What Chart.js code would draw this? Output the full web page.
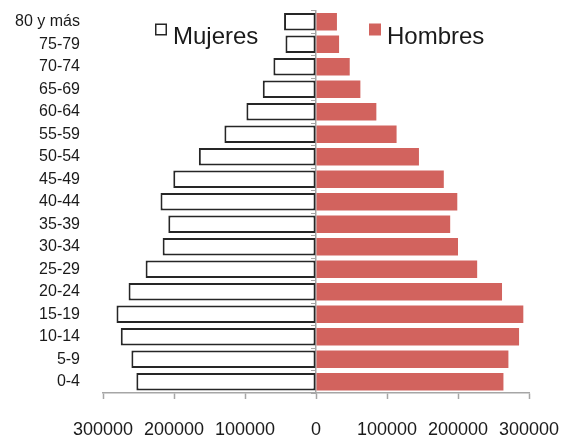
<!DOCTYPE html>
<html>
<head>
<meta charset="utf-8">
<script src="https://cdn.jsdelivr.net/npm/chart.js@4.4.1/dist/chart.umd.min.js"></script>
<style>
  html, body { margin: 0; padding: 0; background: #fff; }
  #wrap { width: 568px; height: 438px; }
</style>
</head>
<body>
<div id="wrap"><canvas id="pyramid"></canvas></div>
<script>
// age groups, bottom to top
const ageGroups = ['0-4', '5-9', '10-14', '15-19', '20-24', '25-29', '30-34', '35-39',
  '40-44', '45-49', '50-54', '55-59', '60-64', '65-69', '70-74', '75-79', '80 y más'];

const mujeres = [253000, 260000, 275000, 281000, 264000, 240000, 216000, 208000,
  219000, 201000, 165000, 129000, 98000, 75000, 60000, 43000, 45000];

const hombres = [264000, 271000, 286000, 292000, 262000, 227000, 200000, 189000,
  199000, 180000, 145000, 113500, 85000, 62500, 47500, 32500, 29500];

const xTicks = [-300000, -200000, -100000, 0, 100000, 200000, 300000];

const axisGrey = '#a6a6a6';
const textColor = '#1a1a1a';
const fontFamily = 'Liberation Sans, Arial, sans-serif';

// legend drawn over the plot, like the spreadsheet original
const insideLegend = {
  id: 'insideLegend',
  afterDraw(chart) {
    const ctx = chart.ctx;
    const x0 = chart.scales.x.getPixelForValue(0);
    const offsets = [-161, 53];
    const top = 23.5;
    ctx.save();
    ctx.font = '24px ' + fontFamily;
    ctx.textBaseline = 'alphabetic';
    ctx.textAlign = 'left';
    chart.data.datasets.forEach((ds, i) => {
      const bx = x0 + offsets[i];
      ctx.fillStyle = ds.backgroundColor;
      ctx.fillRect(bx, top, 12, 12);
      if (ds.borderWidth) {
        ctx.strokeStyle = ds.borderColor;
        ctx.lineWidth = 1.5;
        ctx.strokeRect(bx + 0.75, top + 0.75, 10.5, 10.5);
      }
      ctx.fillStyle = textColor;
      ctx.fillText(ds.label, bx + 18, 43.5);
    });
    ctx.restore();
  }
};

new Chart(document.getElementById('pyramid'), {
  type: 'bar',
  data: {
    labels: ageGroups,
    datasets: [
      {
        label: 'Mujeres',
        data: mujeres.map(v => -v),
        backgroundColor: '#ffffff',
        borderColor: '#262626',
        borderWidth: 2,
        borderSkipped: false,
        barPercentage: 0.78,
        categoryPercentage: 1
      },
      {
        label: 'Hombres',
        data: hombres,
        backgroundColor: '#d2635e',
        borderWidth: 0,
        barPercentage: 0.78,
        categoryPercentage: 1
      }
    ]
  },
  options: {
    indexAxis: 'y',
    responsive: true,
    maintainAspectRatio: false,
    animation: false,
    layout: { padding: { left: 8, right: 39, top: 10.5, bottom: 0 } },
    plugins: {
      tooltip: { enabled: false },
      legend: { display: false }
    },
    scales: {
      x: {
        stacked: true,
        min: -300000,
        max: 300000,
        afterBuildTicks: axis => { axis.ticks = xTicks.map(v => ({ value: v })); },
        afterFit: axis => {
          axis.height = 45;
          axis.paddingLeft = 0;
          axis.paddingRight = 0;
        },
        border: { display: true, color: axisGrey, width: 1.5 },
        grid: {
          color: 'rgba(0,0,0,0)',
          tickColor: axisGrey,
          tickWidth: 1.5,
          tickLength: 6
        },
        ticks: {
          padding: 20,
          color: textColor,
          maxRotation: 0,
          font: { family: fontFamily, size: 18 },
          callback: v => String(Math.abs(v))
        }
      },
      y: {
        stacked: true,
        reverse: true,
        afterFit: axis => {
          axis.width = 95;
          axis.paddingTop = 0;
          axis.paddingBottom = 0;
        },
        border: { display: false },
        grid: { display: false, drawTicks: false },
        ticks: {
          autoSkip: false,
          padding: 23,
          color: textColor,
          font: { family: fontFamily, size: 16 }
        }
      },
      // vertical axis line through zero with its small tick marks
      yZero: {
        type: 'category',
        labels: ageGroups,
        reverse: true,
        position: { x: 0 },
        afterFit: axis => {
          axis.width = 0;
          axis.paddingTop = 0;
          axis.paddingBottom = 0;
        },
        border: { display: true, color: axisGrey, width: 1.5 },
        grid: {
          offset: true,
          drawOnChartArea: false,
          tickColor: axisGrey,
          tickLength: 4
        },
        ticks: { display: false }
      }
    }
  },
  plugins: [insideLegend]
});
</script>
</body>
</html>
